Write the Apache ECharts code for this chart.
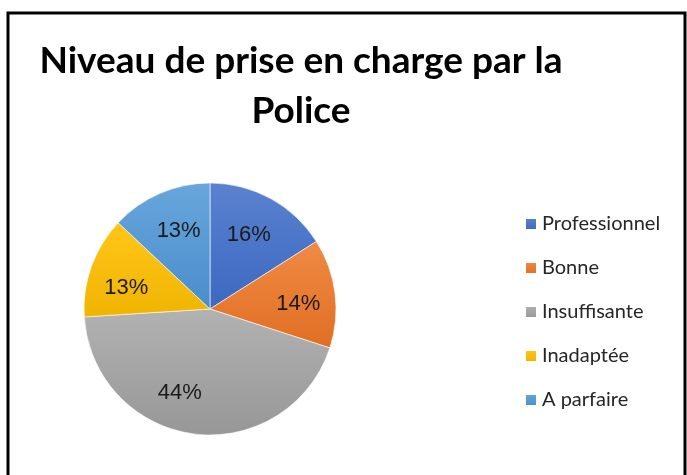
<!DOCTYPE html>
<html>
<head>
<meta charset="utf-8">
<script src="https://cdn.jsdelivr.net/npm/echarts@6/dist/echarts.min.js"></script>
<style>
  html, body { margin: 0; padding: 0; background: #fff; }
  #main { width: 687px; height: 475px; }
</style>
</head>
<body>
<div id="main"></div>
<script>
// données
const categories = ['Professionnel', 'Bonne', 'Insuffisante', 'Inadaptée', 'A parfaire'];
const values = [16, 14, 44, 13, 13];
const colors = [
    ['#5a82cf', '#3c68c0'],
    ['#f08a45', '#e06f22'],
    ['#b2b2b2', '#979797'],
    ['#ffc61a', '#f0b400'],
    ['#68a6dc', '#4a8dcc']
];
// petits décalages pour caler les étiquettes comme dans Excel
const labelShift = [[-4, 4], [0, 6], [-19, -4], [0, 9], [4, 4]];

let myChart = echarts.init(document.getElementById('main'));

const pieData = categories.map(function (name, i) {
    return {
        name: name,
        value: values[i],
        itemStyle: {
            color: new echarts.graphic.LinearGradient(0, 0, 0, 1, [
                {offset: 0, color: colors[i][0]},
                {offset: 1, color: colors[i][1]}
            ])
        }
    };
});

const labelData = categories.map(function (name, i) {
    return {name: name, value: values[i], label: {offset: labelShift[i]}};
});

const option = {
    animation: false,
    color: colors.map(function (c) { return c[1]; }),
    graphic: [
        {
            type: 'polyline',
            shape: {points: [[8, 480], [8, 13], [685, 13], [685, 480]]},
            style: {stroke: '#000', lineWidth: 3, fill: null}
        },
        {
            type: 'text',
            x: 301, y: 36,
            style: {
                text: 'Niveau de prise en charge par la\nPolice',
                font: 'bold 37px Lato',
                fill: '#000',
                textAlign: 'center',
                lineHeight: 50
            }
        }
    ],
    legend: {
        orient: 'vertical',
        left: 519,
        top: 209,
        itemWidth: 12,
        itemHeight: 12,
        itemGap: 24,
        icon: 'rect',
        data: categories,
        textStyle: {
            fontFamily: 'Lato',
            fontSize: 20,
            color: '#262626'
        }
    },
    series: [
        {
            type: 'pie',
            center: [210, 309],
            radius: [0, 126],
            startAngle: 90,
            clockwise: true,
            silent: true,
            label: {show: false},
            labelLine: {show: false},
            itemStyle: {borderColor: '#fff', borderWidth: 0.6},
            data: pieData
        },
        {
            type: 'pie',
            center: [210, 309],
            radius: [46, 126],
            startAngle: 90,
            clockwise: true,
            silent: true,
            itemStyle: {color: 'rgba(0,0,0,0)'},
            label: {
                show: true,
                position: 'inside',
                formatter: '{d}%',
                fontFamily: 'Liberation Sans',
                fontSize: 22,
                color: '#1a1a1a'
            },
            labelLine: {show: false},
            data: labelData
        }
    ]
};

myChart.setOption(option);
</script>
</body>
</html>
